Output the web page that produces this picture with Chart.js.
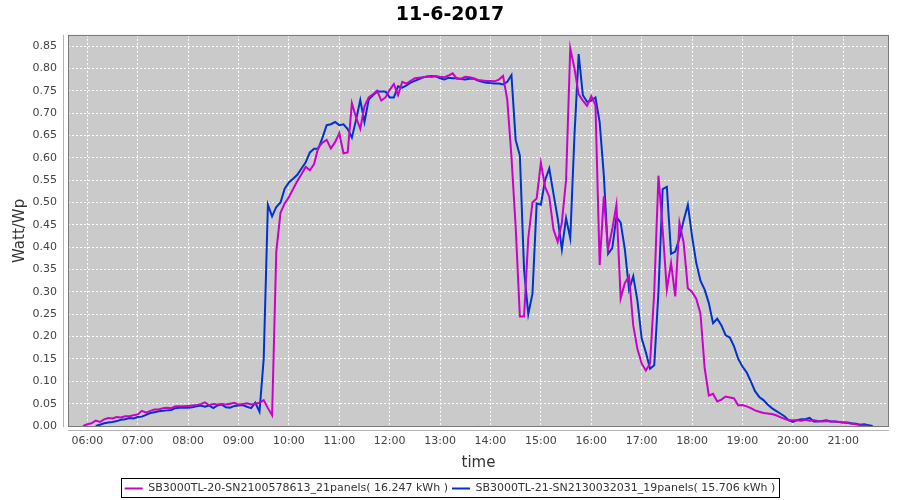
<!DOCTYPE html>
<html>
<head>
<meta charset="utf-8">
<script src="https://cdn.jsdelivr.net/npm/chart.js@4/dist/chart.umd.min.js"></script>
<style>
html, body { margin: 0; padding: 0; background: #fff; }
</style>
</head>
<body>
<canvas id="chart" width="900" height="500"></canvas>
<script>
// readings every 5 minutes, first one at 05:55
var startTime = '05:55';
var stepMinutes = 5;

var xTickLabels = ['06:00','07:00','08:00','09:00','10:00','11:00','12:00','13:00',
                   '14:00','15:00','16:00','17:00','18:00','19:00','20:00','21:00'];
var yTickValues = [0,0.05,0.10,0.15,0.20,0.25,0.30,0.35,0.40,0.45,0.50,0.55,0.60,0.65,0.70,0.75,0.80,0.85];

var labelSb20 = 'SB3000TL-20-SN2100578613_21panels( 16.247 kWh )';
var labelSb21 = 'SB3000TL-21-SN2130032031_19panels( 15.706 kWh )';

var sb20 = [
  0.000,
  0.004,0.006,0.012,0.009,0.015,0.018,0.017,0.020,0.019,0.022,0.022,0.024,
  0.026,0.034,0.030,0.034,0.037,0.037,0.040,0.041,0.040,0.044,0.044,0.044,
  0.045,0.046,0.047,0.049,0.053,0.047,0.049,0.048,0.049,0.048,0.050,0.052,
  0.048,0.049,0.051,0.048,0.050,0.052,0.058,0.040,0.024,0.390,0.477,0.498,
  0.512,0.530,0.548,0.563,0.580,0.572,0.586,0.623,0.634,0.640,0.621,0.635,
  0.655,0.610,0.612,0.722,0.690,0.665,0.715,0.735,0.742,0.750,0.728,0.735,
  0.752,0.765,0.740,0.770,0.766,0.772,0.778,0.779,0.780,0.782,0.781,0.783,
  0.781,0.780,0.784,0.789,0.777,0.777,0.781,0.780,0.778,0.774,0.773,0.772,
  0.772,0.771,0.775,0.783,0.730,0.602,0.446,0.245,0.245,0.420,0.500,0.509,
  0.589,0.535,0.513,0.440,0.412,0.455,0.550,0.845,0.800,0.742,0.728,0.716,
  0.738,0.718,0.360,0.514,0.395,0.440,0.495,0.285,0.320,0.335,0.225,0.172,
  0.140,0.124,0.140,0.300,0.560,0.440,0.305,0.365,0.290,0.455,0.410,0.308,
  0.300,0.285,0.252,0.130,0.068,0.072,0.055,0.059,0.066,0.064,0.062,0.046,
  0.047,0.044,0.040,0.035,0.032,0.029,0.028,0.027,0.024,0.020,0.016,0.013,
  0.013,0.013,0.012,0.014,0.012,0.013,0.011,0.010,0.011,0.010,0.010,0.009,
  0.008,0.007,0.005,0.004,0.002,0.001,0.000,null
];

var sb21 = [
  null,
  null,null,0.000,0.003,0.006,0.008,0.009,0.011,0.014,0.015,0.018,0.017,
  0.020,0.021,0.025,0.029,0.031,0.033,0.034,0.035,0.036,0.040,0.041,0.041,
  0.041,0.042,0.044,0.046,0.043,0.046,0.040,0.046,0.048,0.042,0.041,0.045,
  0.046,0.047,0.043,0.040,0.052,0.032,0.150,0.495,0.469,0.490,0.500,0.531,
  0.545,0.553,0.562,0.576,0.590,0.612,0.620,0.620,0.645,0.673,0.675,0.680,
  0.673,0.675,0.664,0.645,0.685,0.729,0.680,0.730,0.740,0.748,0.748,0.748,
  0.735,0.735,0.760,0.757,0.762,0.768,0.772,0.776,0.780,0.782,0.783,0.782,
  0.778,0.775,0.779,0.778,0.778,0.776,0.775,0.777,0.777,0.773,0.770,0.768,
  0.767,0.766,0.766,0.764,0.770,0.785,0.640,0.605,0.350,0.250,0.296,0.498,
  0.495,0.550,0.576,0.520,0.465,0.395,0.465,0.420,0.650,0.832,0.740,0.725,
  0.728,0.735,0.680,0.560,0.385,0.398,0.468,0.455,0.395,0.305,0.335,0.280,
  0.196,0.165,0.128,0.136,0.300,0.530,0.535,0.385,0.390,0.420,0.460,0.495,
  0.425,0.365,0.325,0.305,0.275,0.230,0.240,0.225,0.203,0.198,0.178,0.150,
  0.133,0.120,0.100,0.078,0.065,0.058,0.048,0.040,0.034,0.028,0.022,0.013,
  0.009,0.013,0.015,0.015,0.018,0.010,0.010,0.011,0.013,0.010,0.010,0.009,
  0.008,0.008,0.006,0.005,0.003,0.004,0.002,0.000
];

function toMinutes(hhmm) {
    var p = hhmm.split(':');
    return parseInt(p[0], 10) * 60 + parseInt(p[1], 10);
}
function toHHMM(min) {
    var h = Math.floor(min / 60), m = Math.round(min % 60);
    return (h < 10 ? '0' : '') + h + ':' + (m < 10 ? '0' : '') + m;
}

//pairs each reading with its time of day (minutes)
function points(values) {
    var t0 = toMinutes(startTime);
    return values.map(function(v, i) { return {x: t0 + i * stepMinutes, y: v}; });
}

var font = "'DejaVu Sans', sans-serif";

//grey plot background, plot frame, offset axis lines and legend frame
var plotDecor = {
    id: 'plotDecor',
    beforeDraw: function(chart) {
        var a = chart.chartArea, ctx = chart.ctx;
        ctx.save();
        ctx.fillStyle = '#CACACA';
        ctx.fillRect(a.left, a.top, a.right - a.left, a.bottom - a.top);
        ctx.restore();
    },
    afterDraw: function(chart) {
        var a = chart.chartArea, ctx = chart.ctx;
        ctx.save();
        ctx.lineWidth = 1;
        ctx.strokeStyle = '#7A7A7A';
        ctx.strokeRect(Math.round(a.left) + 0.5, Math.round(a.top) + 0.5,
                       Math.round(a.right - a.left) - 1, Math.round(a.bottom - a.top) - 1);
        ctx.strokeStyle = '#B4B4B4';
        ctx.beginPath();
        ctx.moveTo(Math.round(a.left) - 4.5, a.top);
        ctx.lineTo(Math.round(a.left) - 4.5, a.bottom);
        ctx.moveTo(a.left, Math.round(a.bottom) + 3.5);
        ctx.lineTo(a.right, Math.round(a.bottom) + 3.5);
        ctx.stroke();

        var boxes = chart.legend.legendHitBoxes;
        if (boxes && boxes.length) {
            var l = Infinity, r = -Infinity, t = Infinity, b = -Infinity;
            boxes.forEach(function(h) {
                l = Math.min(l, h.left); r = Math.max(r, h.left + h.width);
                t = Math.min(t, h.top); b = Math.max(b, h.top + h.height);
            });
            ctx.strokeStyle = '#000';
            ctx.strokeRect(Math.round(l) - 3.5, Math.round(t) - 4.5, Math.round(r - l) + 7, Math.round(b - t) + 8);
        }
        ctx.restore();
    }
};

var ctx = document.getElementById('chart');

var chart = new Chart(ctx, {
    type: 'line',
    data: {
        datasets: [
            {
                label: labelSb20,
                data: points(sb20),
                borderColor: '#CC00CC',
                backgroundColor: '#CC00CC',
                borderWidth: 2,
                pointRadius: 0,
                pointStyle: 'line',
                tension: 0
            },
            {
                label: labelSb21,
                data: points(sb21),
                borderColor: '#0033CC',
                backgroundColor: '#0033CC',
                borderWidth: 2,
                pointRadius: 0,
                pointStyle: 'line',
                tension: 0
            }
        ]
    },
    options: {
        responsive: false,
        animation: false,
        layout: { padding: { left: 11, right: 11, top: 0, bottom: -4 } },
        plugins: {
            title: {
                display: true,
                text: '11-6-2017',
                color: '#000',
                font: { family: font, size: 19, weight: 'bold' },
                padding: { top: 4, bottom: 8 }
            },
            legend: {
                position: 'bottom',
                labels: {
                    color: '#333',
                    font: { family: font, size: 11 },
                    usePointStyle: true,
                    pointStyleWidth: 18,
                    padding: 4
                }
            },
            tooltip: { enabled: false }
        },
        scales: {
            x: {
                type: 'linear',
                min: 337,
                max: 1314.5,
                afterBuildTicks: function(scale) {
                    scale.ticks = xTickLabels.map(function(l) { return {value: toMinutes(l)}; });
                },
                afterFit: function(scale) { scale.height = 52; },
                ticks: {
                    color: '#444',
                    font: { family: font, size: 11 },
                    padding: 8,
                    autoSkip: false,
                    maxRotation: 0,
                    callback: function(v) { return toHHMM(v); }
                },
                grid: { color: '#FFFFFF', lineWidth: 1, drawTicks: false },
                border: { display: false, dash: [2, 2] },
                title: {
                    display: true,
                    text: 'time',
                    color: '#333',
                    font: { family: font, size: 15 },
                    padding: { top: 0, bottom: 7 }
                }
            },
            y: {
                min: -0.0022,
                max: 0.8751,
                afterBuildTicks: function(scale) {
                    scale.ticks = yTickValues.map(function(v) { return {value: v}; });
                },
                afterFit: function(scale) { scale.width = 57; },
                ticks: {
                    color: '#444',
                    font: { family: font, size: 11 },
                    padding: 11,
                    callback: function(v) { return v.toFixed(2); }
                },
                grid: { color: '#FFFFFF', lineWidth: 1, drawTicks: false },
                border: { display: false, dash: [2, 2] },
                title: {
                    display: true,
                    text: 'Watt/Wp',
                    color: '#333',
                    font: { family: font, size: 15 },
                    padding: { top: 0, bottom: 0 }
                }
            }
        }
    },
    plugins: [plotDecor]
});
</script>
</body>
</html>
